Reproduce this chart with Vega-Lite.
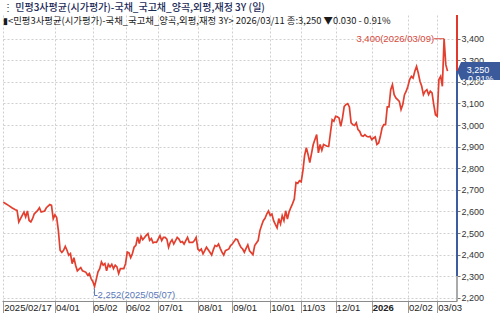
{
  "$schema": "https://vega.github.io/schema/vega-lite/v6.json",
  "width": 455,
  "height": 286,
  "autosize": {"type": "none"},
  "padding": {"left": 2, "top": 15, "right": 43, "bottom": 12},
  "background": "white",
  "config": {
    "view": {"stroke": null},
    "font": "Liberation Sans Narrow, Liberation Sans, sans-serif"
  },
  "title": {
    "text": "⋮ 민평3사평균(시가평가)-국채_국고채_양곡,외평,재정 3Y (일)",
    "subtitle": "▮<민평3사평균(시가평가)-국채_국고채_양곡,외평,재정 3Y> 2026/03/11 종:3,250 ▼0.030 - 0.91%",
    "anchor": "start",
    "frame": "group",
    "offset": -11,
    "dx": 1,
    "font": "Noto Sans CJK KR",
    "fontSize": 10,
    "fontWeight": 500,
    "color": "#1b2a57",
    "subtitleFont": "Noto Sans CJK KR",
    "subtitleFontSize": 9.4,
    "subtitleColor": "#1a1a1a",
    "subtitlePadding": 4
  },
  "datasets": {
    "yields": [
      {"day":0,"yield":2643},{"day":1,"yield":2638},{"day":3,"yield":2628},{"day":5,"yield":2617},{"day":7,"yield":2608},{"day":8,"yield":2605},{"day":9,"yield":2551},{"day":11,"yield":2582},{"day":12,"yield":2597},{"day":13,"yield":2574},{"day":14,"yield":2602},{"day":15,"yield":2558},{"day":16,"yield":2551},{"day":17,"yield":2566},{"day":18,"yield":2589},{"day":19,"yield":2597},{"day":20,"yield":2605},{"day":21,"yield":2617},{"day":22,"yield":2597},{"day":24,"yield":2602},{"day":25,"yield":2617},{"day":27,"yield":2632},{"day":28,"yield":2628},{"day":29,"yield":2566},{"day":30,"yield":2584},{"day":31,"yield":2572},{"day":32,"yield":2510},{"day":33,"yield":2420},{"day":34,"yield":2410},{"day":35,"yield":2420},{"day":36,"yield":2438},{"day":37,"yield":2420},{"day":38,"yield":2397},{"day":39,"yield":2405},{"day":40,"yield":2358},{"day":41,"yield":2386},{"day":42,"yield":2351},{"day":43,"yield":2325},{"day":44,"yield":2333},{"day":45,"yield":2340},{"day":46,"yield":2325},{"day":47,"yield":2322},{"day":48,"yield":2318},{"day":49,"yield":2305},{"day":50,"yield":2312},{"day":51,"yield":2289},{"day":52,"yield":2275},{"day":53,"yield":2252},{"day":54,"yield":2285},{"day":55,"yield":2320},{"day":56,"yield":2335},{"day":57,"yield":2366},{"day":58,"yield":2351},{"day":59,"yield":2358},{"day":60,"yield":2325},{"day":61,"yield":2355},{"day":62,"yield":2343},{"day":63,"yield":2355},{"day":64,"yield":2335},{"day":65,"yield":2351},{"day":66,"yield":2343},{"day":67,"yield":2312},{"day":68,"yield":2335},{"day":70,"yield":2335},{"day":71,"yield":2358},{"day":72,"yield":2412},{"day":73,"yield":2408},{"day":74,"yield":2386},{"day":75,"yield":2405},{"day":76,"yield":2435},{"day":77,"yield":2443},{"day":78,"yield":2482},{"day":79,"yield":2451},{"day":80,"yield":2485},{"day":81,"yield":2469},{"day":83,"yield":2489},{"day":84,"yield":2497},{"day":85,"yield":2466},{"day":86,"yield":2474},{"day":87,"yield":2454},{"day":88,"yield":2458},{"day":89,"yield":2457},{"day":91,"yield":2488},{"day":92,"yield":2465},{"day":93,"yield":2480},{"day":94,"yield":2480},{"day":95,"yield":2472},{"day":96,"yield":2434},{"day":97,"yield":2457},{"day":98,"yield":2469},{"day":99,"yield":2449},{"day":101,"yield":2480},{"day":102,"yield":2472},{"day":103,"yield":2457},{"day":104,"yield":2460},{"day":105,"yield":2449},{"day":106,"yield":2465},{"day":107,"yield":2480},{"day":108,"yield":2457},{"day":110,"yield":2457},{"day":111,"yield":2465},{"day":112,"yield":2480},{"day":113,"yield":2426},{"day":114,"yield":2418},{"day":115,"yield":2426},{"day":116,"yield":2403},{"day":117,"yield":2418},{"day":118,"yield":2434},{"day":120,"yield":2411},{"day":121,"yield":2398},{"day":122,"yield":2423},{"day":123,"yield":2442},{"day":124,"yield":2438},{"day":125,"yield":2449},{"day":126,"yield":2429},{"day":127,"yield":2411},{"day":128,"yield":2398},{"day":129,"yield":2418},{"day":131,"yield":2426},{"day":132,"yield":2442},{"day":133,"yield":2449},{"day":135,"yield":2472},{"day":136,"yield":2469},{"day":137,"yield":2449},{"day":138,"yield":2434},{"day":139,"yield":2426},{"day":140,"yield":2411},{"day":141,"yield":2429},{"day":142,"yield":2445},{"day":143,"yield":2418},{"day":145,"yield":2400},{"day":146,"yield":2442},{"day":147,"yield":2454},{"day":148,"yield":2465},{"day":149,"yield":2510},{"day":150,"yield":2535},{"day":151,"yield":2557},{"day":152,"yield":2568},{"day":153,"yield":2588},{"day":154,"yield":2602},{"day":155,"yield":2582},{"day":156,"yield":2588},{"day":157,"yield":2557},{"day":158,"yield":2540},{"day":159,"yield":2524},{"day":160,"yield":2567},{"day":161,"yield":2542},{"day":162,"yield":2580},{"day":163,"yield":2557},{"day":164,"yield":2603},{"day":165,"yield":2565},{"day":166,"yield":2598},{"day":167,"yield":2618},{"day":168,"yield":2636},{"day":169,"yield":2657},{"day":170,"yield":2734},{"day":171,"yield":2730},{"day":172,"yield":2742},{"day":173,"yield":2737},{"day":174,"yield":2788},{"day":175,"yield":2860},{"day":176,"yield":2895},{"day":177,"yield":2864},{"day":178,"yield":2826},{"day":180,"yield":2910},{"day":182,"yield":2956},{"day":183,"yield":2871},{"day":184,"yield":2910},{"day":185,"yield":2883},{"day":186,"yield":2910},{"day":188,"yield":2902},{"day":189,"yield":2902},{"day":191,"yield":3025},{"day":192,"yield":3018},{"day":193,"yield":3041},{"day":194,"yield":3038},{"day":195,"yield":3033},{"day":196,"yield":2994},{"day":197,"yield":3033},{"day":198,"yield":3087},{"day":199,"yield":3095},{"day":200,"yield":3099},{"day":201,"yield":3084},{"day":202,"yield":3010},{"day":203,"yield":3002},{"day":204,"yield":2998},{"day":205,"yield":3010},{"day":206,"yield":2979},{"day":207,"yield":2971},{"day":208,"yield":2951},{"day":209,"yield":2948},{"day":210,"yield":2956},{"day":211,"yield":2948},{"day":212,"yield":2945},{"day":213,"yield":2948},{"day":214,"yield":2933},{"day":215,"yield":2940},{"day":216,"yield":2945},{"day":217,"yield":2910},{"day":218,"yield":2917},{"day":219,"yield":2948},{"day":220,"yield":2987},{"day":221,"yield":3002},{"day":222,"yield":3002},{"day":223,"yield":3084},{"day":224,"yield":3084},{"day":225,"yield":3164},{"day":226,"yield":3187},{"day":227,"yield":3141},{"day":228,"yield":3126},{"day":229,"yield":3118},{"day":230,"yield":3110},{"day":231,"yield":3072},{"day":232,"yield":3095},{"day":233,"yield":3141},{"day":234,"yield":3157},{"day":235,"yield":3180},{"day":236,"yield":3211},{"day":237,"yield":3226},{"day":238,"yield":3218},{"day":239,"yield":3249},{"day":240,"yield":3272},{"day":241,"yield":3241},{"day":242,"yield":3203},{"day":243,"yield":3180},{"day":244,"yield":3141},{"day":245,"yield":3157},{"day":246,"yield":3164},{"day":247,"yield":3141},{"day":248,"yield":3157},{"day":249,"yield":3149},{"day":250,"yield":3095},{"day":251,"yield":3048},{"day":252,"yield":3041},{"day":253,"yield":3211},{"day":254,"yield":3226},{"day":255,"yield":3180},{"day":256,"yield":3400},{"day":257,"yield":3280},{"day":258,"yield":3250}
    ],
    "high": [{"day": 256, "yield": 3400, "label": "3,400(2026/03/09)"}],
    "low": [{"day": 53, "yield": 2252, "label": "2,252(2025/05/07)"}],
    "last": [{"day": 258, "yield": 3250, "tag": "3,250\n- 0.91%"}],
    "edge": [
      {"from": 3250, "to": 3510, "part": "above"},
      {"from": 2300, "to": 3250, "part": "range"},
      {"from": 2185, "to": 2300, "part": "below"}
    ]
  },
  "layer": [
    {
      "data": {"name": "yields"},
      "mark": {"type": "line", "color": "#e23f2f", "strokeWidth": 1.7, "strokeJoin": "miter"},
      "encoding": {
        "x": {
          "field": "day", "type": "quantitative",
          "scale": {"domain": [-0.75, 263.5], "nice": false, "zero": false},
          "axis": {
            "title": null,
            "values": [0, 30, 52, 71, 90, 113, 133, 155, 173, 193, 214, 235, 252],
            "tickCount": 30,
            "labelExpr": "['2025/02/17','04/01','05/02','06/02','07/01','08/01','09/01','10/01','11/03','12/01','2026','02/02','03/03'][indexof([0,30,52,71,90,113,133,155,173,193,214,235,252], datum.value)]",
            "grid": true, "gridColor": "#cfcfcf", "gridDash": [2, 2],
            "domainColor": "#8a8a8a",
            "tickColor": "#9a9a9a", "tickSize": 12,
            "labelAlign": "left", "labelBaseline": "middle", "labelPadding": -6, "labelOffset": 0.5,
            "labelFontSize": 9.5, "labelColor": "#222",
            "labelFontWeight": {"condition": {"test": "datum.value == 214", "value": "bold"}, "value": "normal"},
            "labelOverlap": false, "labelFlush": false, "labelBound": false
          }
        },
        "y": {
          "field": "yield", "type": "quantitative",
          "scale": {"domain": [2185, 3510], "nice": false, "zero": false},
          "axis": {
            "orient": "right", "title": null,
            "values": [2200, 2300, 2400, 2500, 2600, 2700, 2800, 2900, 3000, 3100, 3200, 3300, 3400],
            "tickCount": 30,
            "format": ",d",
            "grid": true, "gridColor": "#cfcfcf", "gridDash": [2, 2],
            "domain": false, "tickSize": 3, "tickColor": "#777",
            "labelAlign": "left", "labelPadding": 1, "labelFontSize": 9, "labelColor": "#333",
            "labelOverlap": false
          }
        }
      }
    },
    {
      "data": {"name": "edge"},
      "mark": {"type": "rule"},
      "encoding": {
        "x": {"value": "width"},
        "y": {"field": "from", "type": "quantitative"},
        "y2": {"field": "to"},
        "color": {"field": "part", "type": "nominal", "scale": {"domain": ["above", "range", "below"], "range": ["#e0392b", "#3b5ca0", "#aaaaaa"]}, "legend": null},
        "strokeWidth": {"field": "part", "type": "nominal", "scale": {"domain": ["above", "range", "below"], "range": [2, 2, 1]}, "legend": null}
      }
    },
    {
      "data": {"name": "last"},
      "mark": {"type": "point", "shape": "M0,0 L0.45,-1 L4.8,-1 L4.8,1 L0.45,1 Z", "size": 324, "filled": true, "color": "#3a5a9c", "opacity": 1},
      "encoding": {
        "x": {"value": "width"},
        "y": {"field": "yield", "type": "quantitative"}
      }
    },
    {
      "data": {"name": "last"},
      "mark": {"type": "text", "color": "white", "fontSize": 9, "lineBreak": "\n", "lineHeight": 8.5, "align": "center", "baseline": "middle", "dx": 21, "dy": -1},
      "encoding": {
        "x": {"value": "width"},
        "y": {"field": "yield", "type": "quantitative"},
        "text": {"field": "tag"}
      }
    },
    {
      "data": {"name": "high"},
      "mark": {"type": "rule", "color": "#d6493b", "strokeWidth": 1, "xOffset": -10, "x2Offset": 0},
      "encoding": {
        "x": {"field": "day", "type": "quantitative"},
        "x2": {"field": "day"},
        "y": {"field": "yield", "type": "quantitative"}
      }
    },
    {
      "data": {"name": "high"},
      "mark": {"type": "text", "color": "#d6493b", "fontSize": 9.5, "align": "right", "baseline": "middle", "dx": -10},
      "encoding": {
        "x": {"field": "day", "type": "quantitative"},
        "y": {"field": "yield", "type": "quantitative"},
        "text": {"field": "label"}
      }
    },
    {
      "data": {"name": "low"},
      "mark": {"type": "rule", "color": "#5a78b8", "strokeWidth": 1, "yOffset": 2, "y2Offset": 9},
      "encoding": {
        "x": {"field": "day", "type": "quantitative"},
        "y": {"field": "yield", "type": "quantitative"},
        "y2": {"field": "yield"}
      }
    },
    {
      "data": {"name": "low"},
      "mark": {"type": "rule", "color": "#5a78b8", "strokeWidth": 1, "yOffset": 9, "x2Offset": 3},
      "encoding": {
        "x": {"field": "day", "type": "quantitative"},
        "x2": {"field": "day"},
        "y": {"field": "yield", "type": "quantitative"}
      }
    },
    {
      "data": {"name": "low"},
      "mark": {"type": "text", "color": "#5a78b8", "fontSize": 9.5, "align": "left", "baseline": "middle", "dx": 3, "dy": 8},
      "encoding": {
        "x": {"field": "day", "type": "quantitative"},
        "y": {"field": "yield", "type": "quantitative"},
        "text": {"field": "label"}
      }
    }
  ]
}
